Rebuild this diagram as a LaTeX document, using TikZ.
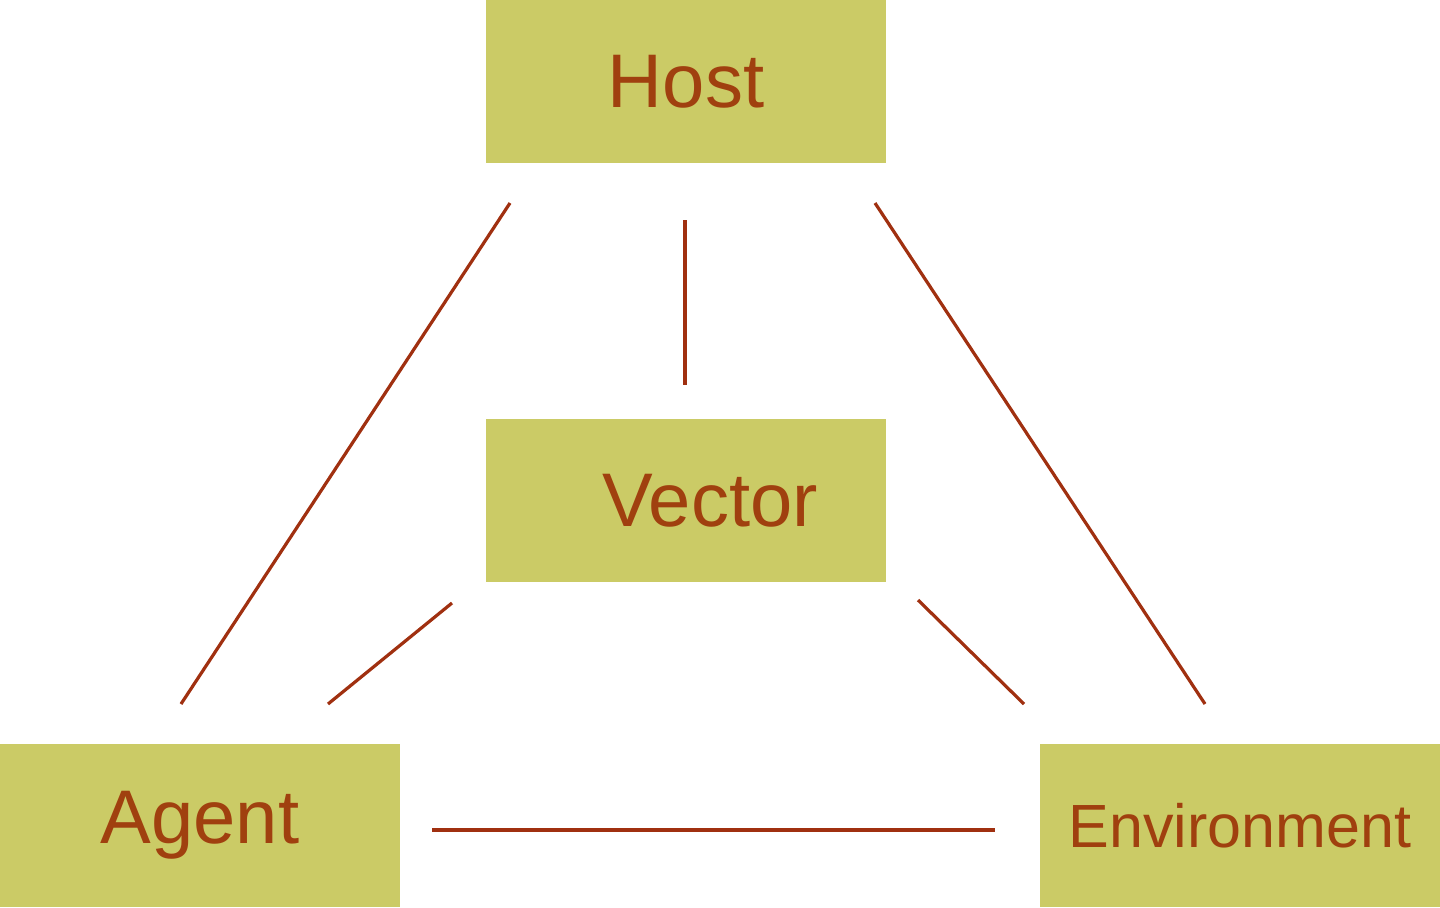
\documentclass[tikz,border=0pt]{standalone}
\usepackage{fontspec}
\setmainfont{Liberation Sans}
\definecolor{boxc}{HTML}{CBCB66}
\definecolor{txtc}{HTML}{A0400F}
\definecolor{linec}{HTML}{A03010}
\begin{document}
\begin{tikzpicture}[x=0.5pt,y=-0.5pt,
  box/.style={fill=boxc,inner sep=0,minimum width=200pt,minimum height=81.5pt,text=txtc},
  conn/.style={draw=linec,line width=1.6pt}]
\useasboundingbox (0,0) rectangle (1440,907);
\node[box,font=\fontsize{38}{40}\selectfont] (host) at (686,81.5) {Host};
\node[box,font=\fontsize{38}{40}\selectfont] (vector) at (686,500.5) {\hspace*{24pt}Vector};
\node[box,font=\fontsize{38}{40}\selectfont] (agent) at (200,825.5) {Agent};
\node[box,font=\fontsize{30.5}{32}\selectfont] (env) at (1240,825.5) {Environment};
\coordinate (h1) at (510,203); \coordinate (a1) at (181,704);
\coordinate (h2) at (685,220); \coordinate (v1) at (685,385);
\coordinate (h3) at (875,203); \coordinate (e1) at (1205,704);
\coordinate (v2) at (452,603); \coordinate (a2) at (328,704);
\coordinate (v3) at (918,600); \coordinate (e2) at (1024,704);
\coordinate (a3) at (432,830); \coordinate (e3) at (995,830);
\draw[conn] (h1) -- (a1);
\draw[conn] (h2) -- (v1);
\draw[conn] (h3) -- (e1);
\draw[conn] (v2) -- (a2);
\draw[conn] (v3) -- (e2);
\draw[conn] (a3) -- (e3);
\end{tikzpicture}
\end{document}
